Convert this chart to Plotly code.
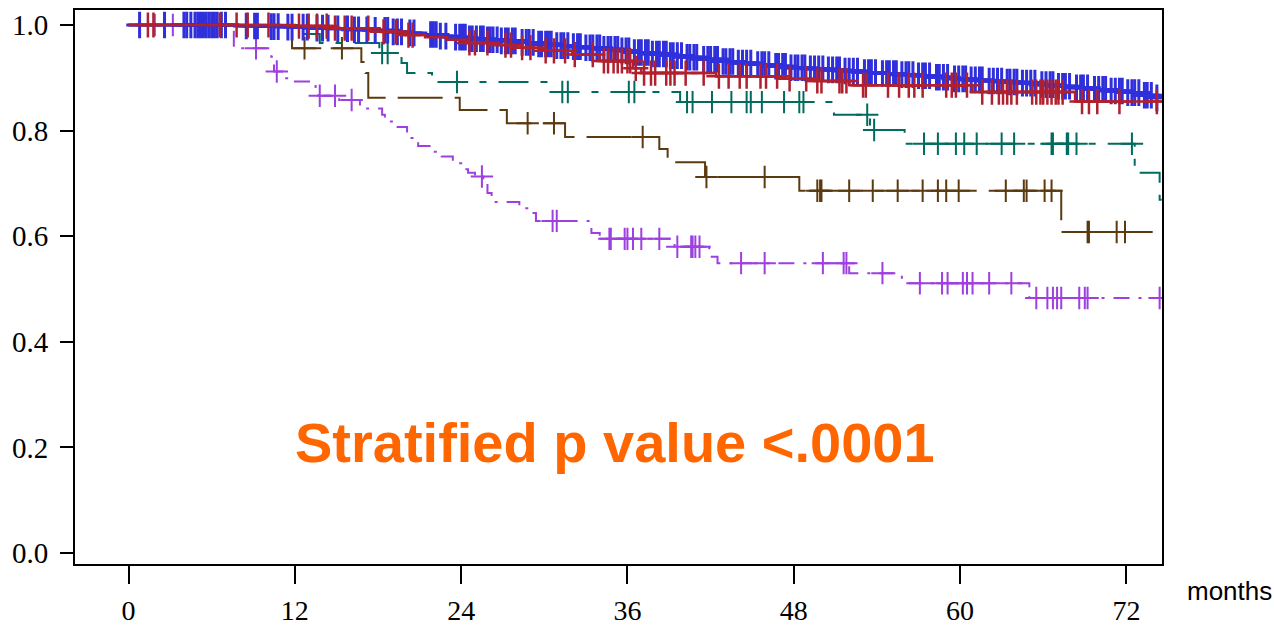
import numpy as np
import plotly.graph_objects as go

# ---------------- data (months, survival) ----------------
tick_vals_x = [0, 12, 24, 36, 48, 60, 72]
tick_vals_y = [0.0, 0.2, 0.4, 0.6, 0.8, 1.0]
tick_text_y = ["0.0", "0.2", "0.4", "0.6", "0.8", "1.0"]

# group 1 (blue)
blue_event_t = [7.9, 9.6, 11.3, 13.1, 14.6, 16.2, 17.5, 18.9, 19.8, 21.0,
                22.3, 23.1, 24.5, 25.7, 26.8, 28.2, 29.4, 30.6, 31.9, 32.8,
                34.1, 35.4, 36.3, 37.6, 38.9, 40.1, 41.3, 42.7, 43.8, 45.2,
                46.5, 47.6, 49.0, 50.3, 51.5, 52.9, 54.2, 55.6, 56.8, 58.1,
                59.4, 60.6, 61.9, 63.2, 64.3, 65.7, 66.9, 68.2, 69.5, 70.7,
                71.9, 73.1, 74.0]
blue_event_s = [0.998, 0.997, 0.996, 0.994, 0.993, 0.991, 0.990, 0.987, 0.985, 0.982,
                0.979, 0.977, 0.974, 0.972, 0.970, 0.967, 0.964, 0.961, 0.959, 0.957,
                0.954, 0.951, 0.948, 0.945, 0.942, 0.939, 0.935, 0.931, 0.928, 0.925,
                0.922, 0.919, 0.917, 0.915, 0.913, 0.910, 0.908, 0.906, 0.904, 0.901,
                0.898, 0.896, 0.894, 0.892, 0.890, 0.887, 0.884, 0.881, 0.878, 0.875,
                0.872, 0.867, 0.862]
blue_censor_t = [0.8, 2.6, 4.0, 4.2, 4.5, 4.8, 5.0, 5.2, 5.4, 5.6, 5.8, 6.0, 6.2, 6.4, 6.7, 7.0,
                 8.5, 9.1, 9.3, 10.3, 10.5, 10.8, 11.5, 11.8, 12.6, 12.9, 13.6, 14.0, 14.4,
                 15.1, 15.8, 16.3, 16.6, 17.2, 17.8, 18.5, 18.7, 19.1, 19.4, 19.7, 20.3, 20.6,
                 21.8, 22.0, 22.2, 22.5, 22.9, 23.6, 23.9, 24.1, 24.3, 24.6, 24.8, 25.1, 25.4,
                 25.6, 25.9, 26.1, 26.3, 26.6, 26.9, 27.2, 27.4, 27.7, 27.9, 28.4, 28.7, 28.9,
                 29.2, 29.6, 29.8, 30.1, 30.3, 30.5, 30.9, 31.2, 31.4, 31.7, 32.1, 32.4, 32.6,
                 33.0, 33.3, 33.5, 33.8, 34.0, 34.3, 34.6, 34.8, 35.1, 35.3, 35.6, 35.9, 36.1,
                 36.5, 36.8, 37.0, 37.3, 37.5, 37.8, 38.1, 38.3, 38.6, 38.8, 39.1, 39.3, 39.6,
                 39.9, 40.3, 40.5, 40.8, 41.0, 41.5, 41.8, 42.0, 42.3, 42.5, 42.9, 43.1, 43.4,
                 43.6, 44.0, 44.3, 44.6, 44.9, 45.4, 45.7, 45.9, 46.2, 46.7, 46.9, 47.2, 47.4,
                 47.8, 48.1, 48.3, 48.6, 48.8, 49.2, 49.5, 49.8, 50.1, 50.5, 50.8, 51.1, 51.3,
                 51.7, 52.0, 52.3, 52.6, 53.1, 53.4, 53.6, 53.9, 54.4, 54.7, 54.9, 55.2, 55.4,
                 55.8, 56.1, 56.3, 56.6, 57.0, 57.3, 57.5, 57.8, 58.3, 58.5, 58.8, 59.1, 59.6,
                 59.9, 60.2, 60.4, 60.8, 61.1, 61.4, 61.6, 62.1, 62.4, 62.7, 63.0, 63.4, 63.6,
                 63.9, 64.1, 64.5, 64.8, 65.1, 65.4, 65.9, 66.2, 66.5, 66.7, 67.1, 67.4, 67.6,
                 67.9, 68.4, 68.7, 68.9, 69.2, 69.7, 70.0, 70.3, 70.5, 70.9, 71.2, 71.5, 71.7,
                 72.1, 72.4, 72.6, 72.9, 73.3, 73.5, 73.8, 74.2]
blue_end = 74.7

# group 2 (red)
red_event_t = [12.0, 14.7, 17.5, 20.0, 21.4, 23.0, 24.4, 26.0, 28.0, 30.0,
               32.0, 34.0, 36.4, 37.0, 42.4, 47.0, 49.5, 52.0, 60.9, 68.3]
red_event_s = [0.998, 0.994, 0.987, 0.981, 0.977, 0.972, 0.966, 0.962, 0.957, 0.951,
               0.944, 0.932, 0.918, 0.909, 0.903, 0.898, 0.894, 0.886, 0.873, 0.855]
red_censor_t = [1.4, 1.8, 6.6, 7.8, 8.6, 10.1, 12.3, 13.0, 13.6, 14.3, 14.9, 15.6, 16.1,
                17.3, 18.4, 19.3, 20.2, 20.5, 24.6, 25.0, 25.9, 27.2, 27.6, 28.4, 29.0,
                30.1, 30.7, 31.5, 32.2, 33.5, 34.3, 34.6, 35.0, 35.3, 35.6, 36.0, 36.2,
                36.6, 37.2, 37.7, 38.0, 38.8, 39.1, 39.4, 40.2, 41.5, 42.6, 43.3, 44.1,
                44.6, 45.6, 46.0, 46.8, 47.7, 48.9, 49.7, 50.0, 51.3, 51.5, 51.8, 53.0,
                53.2, 54.8, 55.6, 56.3, 56.7, 57.3, 59.0, 59.4, 59.7, 60.5, 61.6, 62.3,
                62.8, 63.1, 63.4, 63.7, 64.1, 65.2, 65.5, 65.8, 66.0, 66.3, 66.6, 66.9,
                67.1, 67.4, 68.8, 69.3, 69.9, 71.5, 74.2]
red_end = 74.7

# group 3 (teal)
teal_event_t = [12.6, 13.8, 18.1, 19.7, 20.1, 21.9, 30.3, 39.8, 50.9, 53.5, 56.0, 72.6, 74.4]
teal_event_s = [0.983, 0.966, 0.947, 0.928, 0.909, 0.892, 0.873, 0.854, 0.830, 0.801,
                0.775, 0.720, 0.669]
teal_censor_t = [5.5, 5.8, 18.3, 18.7, 23.7, 31.3, 31.7, 36.1, 36.5, 40.3, 40.7, 42.1,
                 43.5, 44.6, 44.9, 45.7, 47.3, 48.4, 48.7, 53.3, 53.8, 57.4, 58.4, 59.7,
                 60.3, 61.2, 63.0, 63.9, 66.6, 66.7, 67.7, 67.8, 68.4, 72.4]
teal_end = 74.7

# group 4 (brown)
brown_event_t = [11.8, 16.8, 17.1, 17.3, 23.9, 27.3, 31.5, 38.3, 38.9, 41.6, 48.4, 67.3]
brown_event_s = [0.956, 0.930, 0.909, 0.862, 0.839, 0.814, 0.788, 0.765, 0.740, 0.712,
                 0.686, 0.608]
brown_censor_t = [5.1, 6.6, 12.7, 15.4, 28.8, 30.7, 37.1, 41.7, 45.9, 49.7, 49.9, 50.0,
                  52.0, 53.7, 55.5, 57.3, 58.4, 59.0, 59.9, 63.3, 64.6, 64.8, 66.1, 66.6,
                  69.2, 69.3, 71.3, 71.9]
brown_end = 73.9

# group 5 (purple)
purple_event_t = [7.6, 10.3, 10.5, 11.3, 11.8, 13.2, 13.5, 13.7, 15.2, 16.7, 18.3, 18.5,
                  19.3, 20.1, 20.9, 22.1, 22.6, 23.4, 24.1, 24.5, 25.0, 25.6, 25.9, 26.2,
                  28.2, 29.1, 29.4, 33.4, 34.0, 39.4, 41.9, 42.5, 52.0, 55.8, 65.0]
purple_event_s = [0.956, 0.940, 0.912, 0.899, 0.893, 0.888, 0.877, 0.866, 0.858, 0.842,
                  0.830, 0.817, 0.807, 0.786, 0.771, 0.760, 0.751, 0.738, 0.727, 0.720,
                  0.713, 0.703, 0.682, 0.665, 0.653, 0.644, 0.629, 0.606, 0.595, 0.580,
                  0.561, 0.549, 0.530, 0.511, 0.483]
purple_censor_t = [1.9, 3.2, 9.2, 10.7, 13.8, 14.9, 16.1, 25.5, 30.6, 30.9, 34.7, 34.8,
                   35.8, 36.0, 36.4, 37.0, 38.3, 39.6, 40.6, 40.7, 40.9, 41.2, 44.2, 45.9,
                   50.1, 51.6, 51.8, 54.4, 57.1, 58.7, 59.1, 60.2, 60.5, 60.9, 62.1, 63.7,
                   65.5, 66.3, 66.7, 67.0, 67.3, 68.6, 69.0, 69.2, 74.4]
purple_end = 74.7

p_text = "Stratified p value <.0001"
x_label = "months"


# ---------------- helpers ----------------
def step_xy(ev_t, ev_s, end):
    return [0.0] + list(ev_t) + [end], [1.0] + list(ev_s) + [ev_s[-1]]


def surv_at(ev_t, ev_s, ts):
    idx = np.searchsorted(np.array(ev_t), np.array(ts), side="right")
    return np.concatenate([[1.0], np.array(ev_s)])[idx]


groups = [
    # name, event_t, event_s, censor_t, end, color, dash, line width, marker size, marker width
    ("purple", purple_event_t, purple_event_s, purple_censor_t, purple_end, "#9E3FDF", "16px,9px,3px,9px", 2, 16, 2),
    ("brown", brown_event_t, brown_event_s, brown_censor_t, brown_end, "#5C3A10", "45px,12px", 2, 16, 2),
    ("teal", teal_event_t, teal_event_s, teal_censor_t, teal_end, "#006B5E", "30px,12px,7px,12px", 2, 16, 2),
    ("blue", blue_event_t, blue_event_s, blue_censor_t, blue_end, "#2F2FDB", "solid", 3, 19, 3),
    ("red", red_event_t, red_event_s, red_censor_t, red_end, "#B0202E", "solid", 2.5, 18, 2.5),
]

fig = go.Figure()
for name, et, es, ct, end, col, dash, lw, ms, mw in groups:
    x, y = step_xy(et, es, end)
    fig.add_trace(go.Scatter(x=x, y=y, mode="lines", line_shape="hv",
                             line=dict(color=col, width=lw, dash=dash),
                             showlegend=False, hoverinfo="skip"))
    fig.add_trace(go.Scatter(x=ct, y=surv_at(et, es, ct), mode="markers",
                             marker=dict(symbol="cross-thin", size=ms,
                                         line=dict(color=col, width=mw)),
                             showlegend=False, hoverinfo="skip"))

fig.add_annotation(x=35.1, y=0.21, xref="x", yref="y", text=p_text, showarrow=False,
                   font=dict(family="Liberation Sans", size=56, color="#FF6600", weight="bold"),
                   xanchor="center", yanchor="middle")
fig.add_annotation(x=1.0617, y=-0.0487, xref="paper", yref="paper", text=x_label,
                   showarrow=False, font=dict(family="Liberation Sans", size=26, color="black"),
                   xanchor="center", yanchor="middle")

fig.update_layout(
    width=1274, height=627,
    margin=dict(l=75, r=112, t=10, b=63, autoexpand=False),
    plot_bgcolor="white", paper_bgcolor="white",
    font=dict(family="Liberation Serif", size=28, color="black"),
)
fig.update_xaxes(range=[-3.86, 74.57], tickvals=tick_vals_x, ticks="outside",
                 ticklen=18, tickwidth=2, tickcolor="black", showgrid=False,
                 zeroline=False, showline=True, linecolor="black", linewidth=2,
                 mirror=True, ticklabelstandoff=2,
                 tickfont=dict(family="Liberation Serif", size=28, color="black"))
fig.update_yaxes(range=[-0.0208, 1.0284], tickvals=tick_vals_y, ticktext=tick_text_y,
                 ticks="outside", ticklen=13, tickwidth=2, tickcolor="black",
                 showgrid=False, zeroline=False, showline=True, linecolor="black",
                 linewidth=2, mirror=True, ticklabelstandoff=6,
                 tickfont=dict(family="Liberation Serif", size=29, color="black"))

fig.write_html("out.html", config={"displayModeBar": False},
               post_script="document.body.style.margin='0';document.body.style.padding='0';"
                           "document.body.style.overflow='hidden';")
